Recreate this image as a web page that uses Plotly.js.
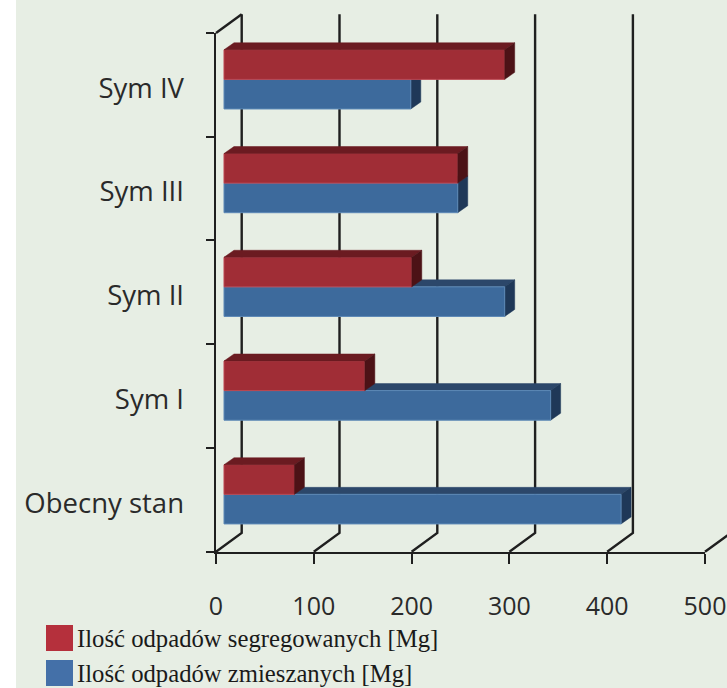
<!DOCTYPE html>
<html>
<head>
<meta charset="utf-8">
<script src="https://cdn.plot.ly/plotly-3.0.1.min.js"></script>
<style>html,body{margin:0;padding:0;background:#e7eee4;overflow:hidden}#c{width:727px;height:688px}</style>
</head>
<body>
<div id="c"></div>
<script>
var categories = ['Obecny stan', 'Sym I', 'Sym II', 'Sym III', 'Sym IV'];
var segregated = [72, 144, 192, 239, 287];
var mixed = [406, 334, 287, 239, 191];
var xTicks = [0, 100, 200, 300, 400, 500];
var seriesNames = ['Ilość odpadów segregowanych [Mg]', 'Ilość odpadów zmieszanych [Mg]'];

var W = 727, H = 688;
var L = 216, T = 33, PW = 489, PH = 518.7;
var xPx = PW / 500, yPx = PH / 5;
var yMin = -0.5, yMax = 4.5;
var ink = '#1f1f1f';

// perspective offsets, in axis units
var wallDx = 25.7 / xPx, wallDy = 18.7 / yPx, wallTop = yMax + wallDy;
var depthDx = 10 / xPx, depthDy = 7 / yPx;
var barStart = 8 / xPx, barH = 29.6 / yPx, split = 5.5 / yPx;
var pos = categories.map(function (c, i) { return i; });

function wallTrace() {
  var xs = [], ys = [];
  xTicks.forEach(function (v) {
    xs.push(v, v + wallDx, v + wallDx, null);
    ys.push(yMin, yMin + wallDy, wallTop, null);
  });
  xs.push(0, wallDx); ys.push(yMax, wallTop);
  return { x: xs, y: ys, type: 'scatter', mode: 'lines', hoverinfo: 'skip', showlegend: false,
    line: { color: ink, width: 2.4 }, xaxis: 'x', yaxis: 'y' };
}
function face(values, bottoms, tops, kind, color, axX, axY) {
  var xs = [], ys = [];
  values.forEach(function (v, i) {
    var e = barStart + v, t = tops[i], b = bottoms[i];
    if (kind === 'top') {
      xs.push(barStart, barStart + depthDx, e + depthDx, e, barStart, null);
      ys.push(t, t + depthDy, t + depthDy, t, t, null);
    } else {
      xs.push(e, e + depthDx, e + depthDx, e, e, null);
      ys.push(t, t + depthDy, b + depthDy, b, t, null);
    }
  });
  return { x: xs, y: ys, type: 'scatter', mode: 'lines', fill: 'toself', fillcolor: color, cliponaxis: false,
    hoverinfo: 'skip', showlegend: false, line: { color: color, width: 0.5 }, xaxis: axX, yaxis: axY };
}
var redBottom = pos.map(function (p) { return p + split; });
var redTop = pos.map(function (p) { return p + split + barH; });
var blueBottom = pos.map(function (p) { return p + split - barH; });
var blueTop = redBottom;

var traces = [
  wallTrace(),
  face(mixed, blueBottom, blueTop, 'top', '#2c476a', 'x', 'y'),
  face(mixed, blueBottom, blueTop, 'side', '#1f3858', 'x', 'y'),
  { type: 'scatter', mode: 'lines', x: [null], y: [null], xaxis: 'x2', yaxis: 'y2', showlegend: false, hoverinfo: 'skip' },
  { type: 'bar', orientation: 'h', name: seriesNames[1], x: mixed, y: pos, base: barStart, width: barH, offset: split - barH,
    marker: { color: '#3d6a9c', line: { color: '#5c88b6', width: 1 } }, xaxis: 'x3', yaxis: 'y3', showlegend: false },
  { type: 'bar', orientation: 'h', name: seriesNames[0], x: segregated, y: pos, base: barStart, width: barH, offset: split,
    marker: { color: '#a02d36', line: { color: '#bd4650', width: 1 } }, xaxis: 'x3', yaxis: 'y3', showlegend: false },
  face(segregated, redBottom, redTop, 'top', '#6b1b21', 'x3', 'y3'),
  face(segregated, redBottom, redTop, 'side', '#4c1216', 'x3', 'y3')
];

var xFont = { family: '"Open Sans", sans-serif', size: 25, color: '#2a2a2a' };
var yFont = { family: '"Open Sans", sans-serif', size: 27.5, color: '#2a2a2a' };
var serif = { family: '"Liberation Serif", serif', size: 24.7, color: '#1a1a1a' };
var layout = {
  width: W, height: H, showlegend: false, barmode: 'overlay',
  margin: { l: 0, t: 0, r: 0, b: 0, pad: 0 },
  paper_bgcolor: '#e7eee4', plot_bgcolor: 'rgba(0,0,0,0)',
  // full-page frame for the back wall, same units as the visible axes
  xaxis: { domain: [0, 1], range: [-L / xPx, (W - L) / xPx], visible: false, fixedrange: true },
  yaxis: { domain: [0, 1], range: [yMin - (H - T - PH) / yPx, yMax + T / yPx], visible: false, fixedrange: true },
  xaxis2: { domain: [L / W, (L + PW) / W], anchor: 'y2', range: [0, 500], tickvals: xTicks, ticktext: xTicks.map(String), ticks: 'outside', ticklen: 10, tickwidth: 2.2,
    tickcolor: ink, showline: true, linecolor: ink, linewidth: 2.2, showgrid: false, zeroline: false,
    tickfont: xFont, ticklabelstandoff: 21, fixedrange: true },
  yaxis2: { domain: [1 - (T + PH) / H, 1 - T / H], anchor: 'x2', range: [yMin, yMax], tickvals: [-0.5, 0.5, 1.5, 2.5, 3.5, 4.5], ticktext: ['', '', '', '', '', ''], ticks: 'outside', ticklen: 8,
    tickwidth: 2.2, tickcolor: ink, showline: true, linecolor: ink, linewidth: 2.2, showgrid: false, zeroline: false, fixedrange: true },
  xaxis3: { range: [0, 500], overlaying: 'x2', anchor: 'y3', visible: false, fixedrange: true },
  yaxis3: { range: [yMin, yMax], overlaying: 'y2', anchor: 'x3', side: 'left', tickvals: pos.map(function (p) { return p - 0.03; }), ticktext: categories,
    ticks: '', showline: false, showgrid: false, zeroline: false, tickfont: yFont, ticklabelstandoff: 31, fixedrange: true },
  shapes: [
    { type: 'rect', xref: 'paper', yref: 'paper', x0: 0, x1: 16 / W, y0: 0, y1: 1, fillcolor: '#ffffff', line: { width: 0 }, layer: 'below' },
    { type: 'rect', xref: 'paper', yref: 'paper', x0: 46 / W, x1: 73 / W, y0: 1 - 625 / H, y1: 1 - 651 / H, fillcolor: '#b5303c', line: { width: 0 } },
    { type: 'rect', xref: 'paper', yref: 'paper', x0: 46 / W, x1: 73 / W, y0: 1 - 660 / H, y1: 1 - 686 / H, fillcolor: '#4470a8', line: { width: 0 } }
  ],
  annotations: [
    { text: seriesNames[0], xref: 'paper', yref: 'paper', x: 75 / W, y: 1 - 638 / H, xanchor: 'left', yanchor: 'middle', showarrow: false, font: serif },
    { text: seriesNames[1], xref: 'paper', yref: 'paper', x: 75 / W, y: 1 - 673 / H, xanchor: 'left', yanchor: 'middle', showarrow: false, font: serif }
  ]
};
Plotly.newPlot('c', traces, layout, { displayModeBar: false, responsive: false });
</script>
</body>
</html>
